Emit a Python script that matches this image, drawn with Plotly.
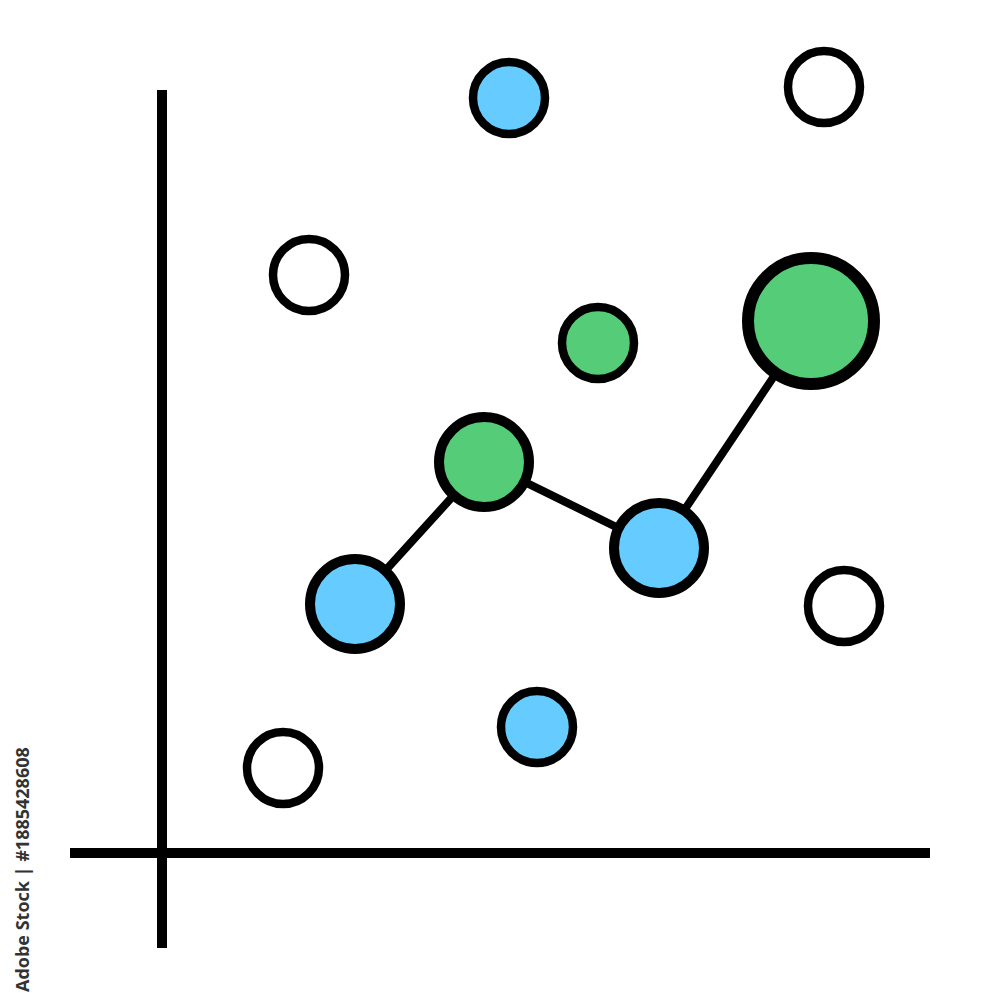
import plotly.graph_objects as go

# ==============================================================================
# Data (page pixel coordinates, y grows downwards)
# ==============================================================================
axisX_x = [70, 930]
axisX_y = [853, 853]
axisY_x = [162, 162]
axisY_y = [90, 948]

chainX = [355, 484, 659, 811]
chainY = [604, 462, 548, 321]
chainColor = ['#66CCFF', '#55CC78', '#66CCFF', '#55CC78']
chainSize = [90, 90, 90, 126]

looseX = [309, 824, 283, 844, 509, 537, 598]
looseY = [275, 87, 768, 606, 98, 727, 343]
looseColor = ['#FFFFFF', '#FFFFFF', '#FFFFFF', '#FFFFFF', '#66CCFF', '#66CCFF', '#55CC78']

# ==============================================================================
# Figure
# ==============================================================================
fig = go.Figure()

fig.add_trace(go.Scatter(x=axisX_x, y=axisX_y, mode='lines', line=dict(color='black', width=10), hoverinfo='skip'))
fig.add_trace(go.Scatter(x=axisY_x, y=axisY_y, mode='lines', line=dict(color='black', width=10), hoverinfo='skip'))

fig.add_trace(go.Scatter(x=chainX, y=chainY, mode='lines', line=dict(color='black', width=8), hoverinfo='skip'))
fig.add_trace(go.Scatter(x=chainX, y=chainY, mode='markers',
                         marker=dict(size=chainSize, color=chainColor, opacity=1,
                                     line=dict(color='black', width=[10, 10, 10, 12]))))

fig.add_trace(go.Scatter(x=looseX, y=looseY, mode='markers',
                         marker=dict(size=72, color=looseColor, opacity=1,
                                     line=dict(color='black', width=8.5))))

# ------------------------------------------
# Stock label
# ------------------------------------------
fig.add_annotation(text="<b>Adobe Stock | #1885428608</b>", x=22, y=870, xref='x', yref='y',
                   textangle=-90, showarrow=False, font=dict(family='Open Sans', size=18, color='#333333'))

# page body has an 8px margin, so the plot starts at pixel 8
fig.update_xaxes(range=[8, 1000], visible=False)
fig.update_yaxes(range=[1000, 8], visible=False)
fig.update_layout(width=992, height=992, margin=dict(l=0, r=0, t=0, b=0),
                  plot_bgcolor='white', paper_bgcolor='white', showlegend=False)

fig.write_html("out.html")
